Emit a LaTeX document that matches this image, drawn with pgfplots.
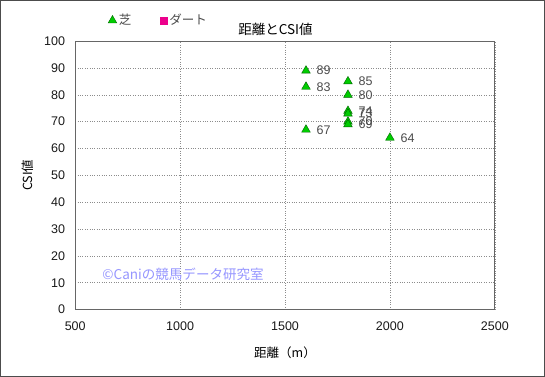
\documentclass[border=0pt]{standalone}
\usepackage{fontspec}
\setmainfont{Liberation Sans}
\newfontfamily\jp{Noto Sans CJK JP}
\usepackage{pgfplots}
\pgfplotsset{compat=1.18}
\definecolor{tri}{RGB}{0,204,0}
\definecolor{trid}{RGB}{0,100,0}
\definecolor{wm}{RGB}{150,150,255}
\begin{document}
\fontsize{12}{14}\selectfont
\begin{tikzpicture}
\draw[draw=black!70, line width=1.2pt, fill=white] (-74.5pt,-66.5pt) rectangle (468.5pt,308.5pt);
\begin{axis}[
  name=ax,
  scale only axis, width=419pt, height=268pt,
  xmin=500, xmax=2500, ymin=0, ymax=100,
  xtick={500,1000,...,2500}, ytick={0,10,...,100},
  /pgf/number format/assume math mode=true,
  /pgf/number format/1000 sep={},
  tick label style={font=\fontsize{12.5}{14}\selectfont, text=black!90},
  major tick length=0pt,
  axis line style={draw=black!60, line width=0.8pt},
  grid=major,
  major grid style={dotted, draw=black!45, line width=0.6pt},
  xticklabel style={yshift=-8pt},
  yticklabel style={xshift=-6pt},
  xlabel={\jp 距離（m）},
  ylabel={\jp CSI値},
  xlabel style={yshift=-8pt},
  ylabel style={yshift=2pt},
  label style={font=\fontsize{12.5}{14}\selectfont},
  legend style={at={(0.078,1.077)}, anchor=west, draw=none, fill=none, legend columns=2,
    font=\fontsize{12.5}{14}\selectfont\jp, text=black!70, inner sep=0pt,
    /tikz/every even column/.append style={column sep=27pt}},
  legend cell align=left,
  clip=false,
]
\addplot[only marks, mark=triangle*, mark size=5pt, mark options={fill=tri, draw=trid, line width=0.4pt},
  nodes near coords, point meta=explicit symbolic,
  nodes near coords style={anchor=west, xshift=6.5pt, yshift=0pt, text=black!70, font=\fontsize{12.5}{14}\selectfont}]
  table[meta=label] {
x y label
1600 89 89
1600 83 83
1600 67 67
1800 85 85
1800 80 80
1800 74 74
1800 73 73
1800 70 70
1800 69 69
2000 64 64
};
\addlegendentry{芝}
\addlegendimage{only marks, mark=square*, mark size=3.5pt, mark options={fill=magenta, draw=magenta}}
\addlegendentry{ダート}
\node[anchor=west, text=wm, font=\fontsize{13.5}{15}\selectfont\jp, inner sep=0pt] at (axis cs:629,13.2) {©Caniの競馬データ研究室};
\end{axis}
\node[font=\fontsize{13.5}{15}\selectfont\jp] at (200pt,280pt) {距離とCSI値};
\end{tikzpicture}
\end{document}
